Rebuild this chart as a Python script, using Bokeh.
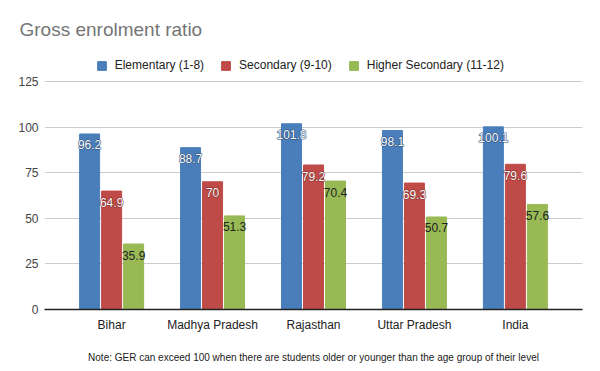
from bokeh.plotting import figure
from bokeh.models import ColumnDataSource, FactorRange, Legend, LegendItem, Range1d, FixedTicker
from bokeh.transform import dodge
from bokeh.core.properties import value
from bokeh.embed import file_html
from bokeh.resources import INLINE

states = ["Bihar", "Madhya Pradesh", "Rajasthan", "Uttar Pradesh", "India"]
elementary = [96.2, 88.7, 101.8, 98.1, 100.1]
secondary = [64.9, 70, 79.2, 69.3, 79.6]
higher_secondary = [35.9, 51.3, 70.4, 50.7, 57.6]
series_names = ["Elementary (1-8)", "Secondary (9-10)", "Higher Secondary (11-12)"]
y_ticks = [0, 25, 50, 75, 100, 125]
title_text = "Gross enrolment ratio"
note_text = "Note: GER can exceed 100 when there are students older or younger than the age group of their level"

colors = ["#4a7ebb", "#be4b48", "#98b954"]
label_colors = ["white", "white", "#222222"]
outline_colors = ["#2d4e7a", "#7d2e2c", None]

def fmt(v):
    return ("%g" % v)

src = ColumnDataSource(dict(
    x=states,
    e=elementary, s=secondary, h=higher_secondary,
    el=[fmt(v) for v in elementary],
    sl=[fmt(v) for v in secondary],
    hl=[fmt(v) for v in higher_secondary],
))

FONT = "Liberation Sans"

# frame extends above the top gridline to leave room for the legend
p = figure(x_range=FactorRange(*states, range_padding=0.165, range_padding_units="absolute"),
           y_range=Range1d(0, 144.7),
           width=600, height=371, output_backend="svg", toolbar_location=None,
           min_border_left=44, min_border_right=18, min_border_top=45, min_border_bottom=62)

p.title.text = title_text
p.title.text_font = FONT
p.title.text_font_size = "19px"
p.title.text_font_style = "normal"
p.title.text_color = "#757575"
p.title.offset = -25
p.title.standoff = 11

offsets = [-0.218, 0.0, 0.218]
cols = ["e", "s", "h"]
lcols = ["el", "sl", "hl"]
renderers = []
for i in range(3):
    r = p.vbar(x=dodge("x", offsets[i], range=p.x_range), top=cols[i], width=0.198,
               source=src, fill_color=colors[i], line_color=colors[i])
    renderers.append(r)
for i in range(3):
    if outline_colors[i]:
        p.text(x=dodge("x", offsets[i], range=p.x_range), y=cols[i], text=lcols[i], source=src,
               text_align="center", text_baseline="middle", y_offset=11,
               text_font=value(FONT), text_font_size="12px", text_color=outline_colors[i],
               outline_color=outline_colors[i])
    p.text(x=dodge("x", offsets[i], range=p.x_range), y=cols[i], text=lcols[i], source=src,
           text_align="center", text_baseline="middle", y_offset=11,
           text_font=value(FONT), text_font_size="12px", text_color=label_colors[i])

legend = Legend(items=[LegendItem(label=series_names[i], renderers=[renderers[i]]) for i in range(3)],
                orientation="horizontal", location=(51.7, 237),
                glyph_width=11, glyph_height=11, label_standoff=8, spacing=16,
                label_height=11, label_width=10,
                label_text_font=FONT, label_text_font_size="12px", label_text_color="#222222",
                border_line_color=None, background_fill_alpha=0, padding=0, margin=0)
p.add_layout(legend, "center")

p.yaxis.ticker = FixedTicker(ticks=y_ticks)
p.yaxis.axis_line_color = None
p.yaxis.major_tick_line_color = None
p.yaxis.minor_tick_line_color = None
p.yaxis.major_tick_out = 0
p.yaxis.major_tick_in = 0
p.yaxis.major_label_text_font = FONT
p.yaxis.major_label_text_font_size = "12px"
p.yaxis.major_label_text_color = "#444444"
p.yaxis.major_label_standoff = 6

p.xaxis.axis_line_color = "#222222"
p.xaxis.axis_line_width = 1.5
p.xaxis.major_tick_line_color = None
p.xaxis.minor_tick_line_color = None
p.xaxis.major_tick_out = 0
p.xaxis.major_tick_in = 0
p.xaxis.major_label_text_font = FONT
p.xaxis.major_label_text_font_size = "12px"
p.xaxis.major_label_text_color = "#222222"
p.xaxis.major_label_standoff = 8
p.xaxis.axis_label = note_text
p.xaxis.axis_label_text_font = FONT
p.xaxis.axis_label_text_font_size = "10px"
p.xaxis.axis_label_text_font_style = "normal"
p.xaxis.axis_label_text_color = "#222222"
p.xaxis.axis_label_standoff = 17

p.xgrid.grid_line_color = None
p.ygrid.grid_line_color = "#cccccc"
p.outline_line_color = None

open("out.html", "w").write(file_html(p, INLINE))
